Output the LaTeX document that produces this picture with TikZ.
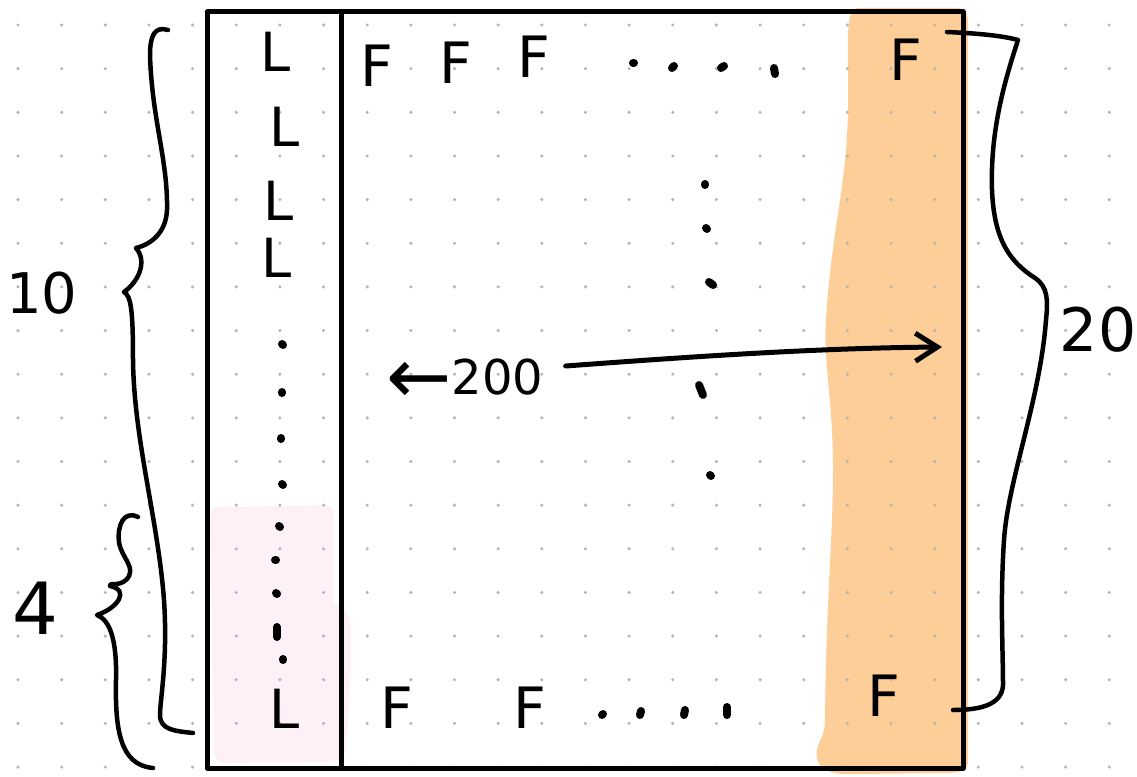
\documentclass[tikz,border=0pt]{standalone}
\usepackage{fontspec}
\setmainfont{DejaVu Sans}
\usetikzlibrary{arrows.meta,calc}
\definecolor{gridc}{HTML}{B4B4B4}
\definecolor{orangefill}{HTML}{FDCE98}
\definecolor{pinkfill}{HTML}{FDF0F6}
\tikzset{
  frameline/.style={line width=5pt, line cap=round, line join=round},
  brace/.style={line width=4.5pt, line cap=round, line join=round},
  inkdot/.style={line width=8pt, line cap=round},
  glyphL/.style={inner sep=0pt, font=\fontsize{54}{54}\selectfont},
  glyphF/.style={inner sep=0pt, font=\fontsize{57}{57}\selectfont},
  label/.style={inner sep=0pt, font=\fontsize{56}{56}\selectfont},
  arrowline/.style={line width=5pt, line cap=round, -{Straight Barb[length=22pt,width=28pt,line width=5pt]}}
}
\begin{document}
\begin{tikzpicture}[x=1pt,y=-1pt]
\useasboundingbox (0,0) rectangle (1137,776);
\fill[white] (0,0) rectangle (1137,776);
% fills
\fill[orangefill] (858,8) -- (958,8) .. controls (966,9) and (968,14) .. (968,24)
  -- (968,760) .. controls (968,770) and (962,772) .. (950,773)
  -- (850,774) .. controls (825,775) and (814,765) .. (817,750)
  .. controls (819,740) and (825,735) .. (825,720)
  .. controls (826,600) and (833,540) .. (833,470)
  .. controls (833,400) and (823,360) .. (826,320)
  .. controls (830,250) and (842,200) .. (846,150)
  .. controls (850,100) and (847,70) .. (848,35)
  .. controls (849,18) and (850,9) .. (858,8) -- cycle;
\fill[pinkfill] (220,507) -- (325,505) .. controls (333,506) and (334,510) .. (334,520)
  -- (334,603) .. controls (350,608) and (351,620) .. (351,640)
  .. controls (351,690) and (348,730) .. (345,752)
  .. controls (343,760) and (335,762) .. (325,762)
  -- (222,763) .. controls (215,762) and (214,755) .. (214,745)
  -- (210,520) .. controls (210,510) and (213,507) .. (220,507) -- cycle;
% dot grid
\foreach \i in {0,...,25}{
  \foreach \j in {0,...,17}{
    \fill[gridc] (18+\i*43.65, 25+\j*43.65) circle[radius=1.7pt];
  }
}
% frame
\draw[frameline] (207,12) rectangle (963,768);
\draw[frameline] (341,12) -- (341,768);
% letters
\node[glyphL] (l1) at (276,52) {L};
\node[glyphL] (l2) at (285,127) {L};
\node[glyphL] (l3) at (279,201) {L};
\node[glyphL] (l4) at (277,258) {L};
\node[glyphL] (l5) at (285,709) {L};
\node[glyphF] (f1) at (377,66) {F};
\node[glyphF] (f2) at (456,63) {F};
\node[glyphF] (f3) at (534,57) {F};
\node[glyphF] (f4) at (906,60) {F};
\node[glyphF] (f5) at (397,708) {F};
\node[glyphF] (f6) at (530,708) {F};
\node[glyphF] (f7) at (884,696) {F};
% labels
\node[label] (t10) at (42,293) {10};
\node[label, font=\fontsize{72}{72}\selectfont] (t4) at (35,608) {4};
\node[label, font=\fontsize{60}{60}\selectfont] (t20) at (1098,330) {20};
\node[inner sep=0pt, font=\fontsize{48}{48}\selectfont] (t200) at (465,381)
  {\raisebox{-9pt}{\fontsize{78}{78}\selectfont ←}200};
% ellipsis dots
\foreach \x/\y/\dx/\dy in {282/344/1/1, 282/392/0/1, 281/438/0/1, 282/484/1/1, 279/526/1/1,
  275/560/1/0, 276/593/1/1, 277/627/0/10, 283/659/0/1,
  633/63/1/0, 672/68/2/-2, 721/68/3/-2, 774/68/1/6,
  705/184/0/1, 706/228/1/1, 709/282/4/3, 699/385/4/10, 710/475/1/1,
  602/715/1/-1, 641/711/-1/4, 685/710/-1/5, 727/707/0/8}{
  \draw[inkdot] (\x,\y) -- ++(\dx,\dy);
}
% braces
\draw[brace] (168,30) .. controls (155,26) and (150,35) .. (150,55)
  .. controls (152,120) and (168,160) .. (167,210)
  .. controls (166,232) and (152,244) .. (136,248)
  .. controls (148,262) and (138,282) .. (124,292)
  .. controls (131,296) and (133,310) .. (133,360)
  .. controls (134,440) and (158,520) .. (164,600)
  .. controls (168,660) and (160,700) .. (160,715)
  .. controls (160,730) and (175,731) .. (193,733);
\draw[brace] (138,517) .. controls (124,510) and (117,525) .. (119,542)
  .. controls (121,558) and (138,568) .. (126,580)
  .. controls (118,587) and (108,582) .. (110,586)
  .. controls (130,590) and (118,608) .. (97,615)
  .. controls (110,620) and (117,640) .. (116,680)
  .. controls (115,730) and (120,765) .. (153,768);
\draw[brace] (947,32) .. controls (970,33) and (1000,35) .. (1018,40)
  .. controls (1005,80) and (990,130) .. (992,190)
  .. controls (994,240) and (1010,262) .. (1035,278)
  .. controls (1048,287) and (1048,300) .. (1046,320)
  .. controls (1040,400) and (1008,480) .. (1004,540)
  .. controls (1000,600) and (1003,650) .. (1003,685)
  .. controls (1002,705) and (980,710) .. (953,710);
% arrow
\coordinate (tip) at (942,347);
\draw[arrowline] ($(t200.east)+(22,-15)$) .. controls (700,356) and (820,348) .. (tip);
\end{tikzpicture}
\end{document}
